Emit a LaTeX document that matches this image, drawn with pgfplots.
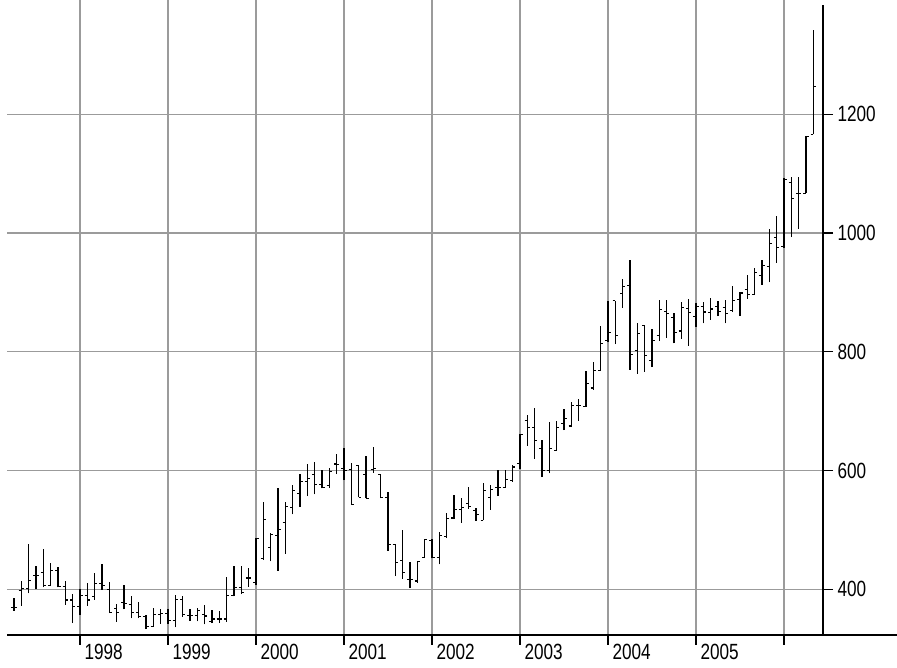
\documentclass[border=0pt]{standalone}
\usepackage{pgfplots}
\pgfplotsset{compat=1.18}
\usepackage{pgfplotstable}
\usepackage{fontspec}
\setmainfont{Liberation Sans}[FakeStretch=0.78]
\definecolor{gridgray}{RGB}{155,155,155}

\pgfdeclareplotmark{ohlcopen}{\pgfpathmoveto{\pgfqpoint{-2.6pt}{0pt}}\pgfpathlineto{\pgfqpoint{0pt}{0pt}}\pgfusepathqstroke}
\pgfdeclareplotmark{ohlcclose}{\pgfpathmoveto{\pgfqpoint{0pt}{0pt}}\pgfpathlineto{\pgfqpoint{2.6pt}{0pt}}\pgfusepathqstroke}

\pgfplotstableread{
i O H L C
1 370 385 364 370
2 398 414 372 402
3 401 477 393 415
4 423 440 400 423
5 429 468 403 406
6 407 444 406 431
7 431 438 403 404
8 404 414 374 382
9 382 392 343 371
10 371 400 357 389
11 389 410 372 382
12 388 428 382 409
13 409 442 399 407
14 399 413 360 361
15 367 375 345 361
16 378 408 366 376
17 375 388 351 361
18 361 379 351 354
19 354 357 333 337
20 338 368 337 357
21 357 366 342 359
22 359 366 342 348
23 348 390 336 383
24 383 388 354 357
25 356 366 347 356
26 356 368 346 365
27 357 374 341 355
28 345 365 343 350
29 350 364 344 350
30 350 421 345 389
31 389 440 388 403
32 403 440 392 394
33 419 435 404 419
34 412 486 407 485
35 452 547 450 517
36 471 494 447 492
37 490 571 431 500
38 512 547 460 540
39 537 575 526 566
40 561 594 539 582
41 582 611 557 587
42 594 614 560 577
43 576 601 570 572
44 575 605 571 598
45 611 627 594 610
46 604 638 584 600
47 601 612 543 543
48 609 609 555 555
49 594 625 553 553
50 601 639 596 603
51 594 594 553 554
52 554 564 465 475
53 475 476 422 445
54 449 499 418 428
55 417 446 402 416
56 414 448 411 447
57 454 485 453 484
58 482 485 452 454
59 454 496 442 490
60 489 528 486 519
61 520 558 518 534
62 534 553 512 537
63 544 573 536 539
64 532 537 515 526
65 516 579 516 567
66 554 575 534 568
67 571 601 557 572
68 571 601 571 585
69 583 610 581 606
70 612 662 603 661
71 685 693 642 672
72 672 706 620 650
73 637 652 589 600
74 600 681 595 637
75 633 684 633 673
76 679 703 668 687
77 675 716 673 710
78 710 720 684 710
79 708 767 707 747
80 739 782 736 768
81 769 843 768 814
82 819 885 816 832
83 886 886 813 828
84 898 923 874 910
85 912 954 770 796
86 802 849 763 831
87 845 845 766 793
88 785 839 774 819
89 827 888 818 871
90 868 888 824 865
91 857 865 814 833
92 835 884 822 875
93 873 889 810 866
94 860 883 842 876
95 876 884 848 867
96 866 890 854 872
97 877 886 860 868
98 875 888 848 865
99 869 910 867 886
100 888 900 860 899
101 905 929 889 896
102 896 941 896 934
103 929 954 913 946
104 943 1007 917 983
105 993 1029 950 976
106 977 1093 975 1090
107 1085 1094 993 1058
108 1066 1095 1007 1067
109 1067 1163 1067 1163
110 1166 1342 1166 1247
}\ohlc

\begin{document}
\begin{tikzpicture}
\path[use as bounding box] (-7pt,-33pt) rectangle (890pt,635pt);
\begin{axis}[
  scale only axis, width=816pt, height=635pt,
  at={(0,0)}, anchor=south west,
  xmin=0.045, xmax=111.32, ymin=323, ymax=1392.5,
  axis x line*=bottom, axis y line*=right,
  axis line style={black, line width=1.2pt},
  y axis line style={shorten >=5pt},
  xtick={10,22,34,46,58,70,82,94,106},
  xticklabels={1998,1999,2000,2001,2002,2003,2004,2005,},
  ytick={400,600,800,1000,1200},
  grid=major,
  grid style={gridgray, line width=1.1pt},
  tick align=outside,
  major tick length=10pt,
  tick style={black, line width=1.2pt},
  /pgf/number format/assume math mode=true,
  /pgf/number format/1000 sep={},
  tick label style={font=\fontsize{22}{26}\selectfont, black},
  xticklabel style={anchor=west, xshift=1pt, yshift=-7pt},
  yticklabel style={anchor=west, xshift=1pt},
  clip=false,
]
\addplot[draw=none, mark=none,
  error bars/.cd, y dir=plus, y explicit, error mark=none,
  error bar style={draw=black, line width=1.6pt}]
  table[x=i, y=L, y error expr=\thisrow{H}-\thisrow{L}] {\ohlc};
\addplot[black, only marks, mark=ohlcopen, mark options={line width=1.1pt, black}]
  table[x=i, y=O] {\ohlc};
\addplot[black, only marks, mark=ohlcclose, mark options={line width=1.1pt, black}]
  table[x=i, y=C] {\ohlc};
\draw[black, line width=1.2pt] (rel axis cs:1,0) -- ([xshift=74pt]rel axis cs:1,0);
\end{axis}
\end{tikzpicture}
\end{document}
